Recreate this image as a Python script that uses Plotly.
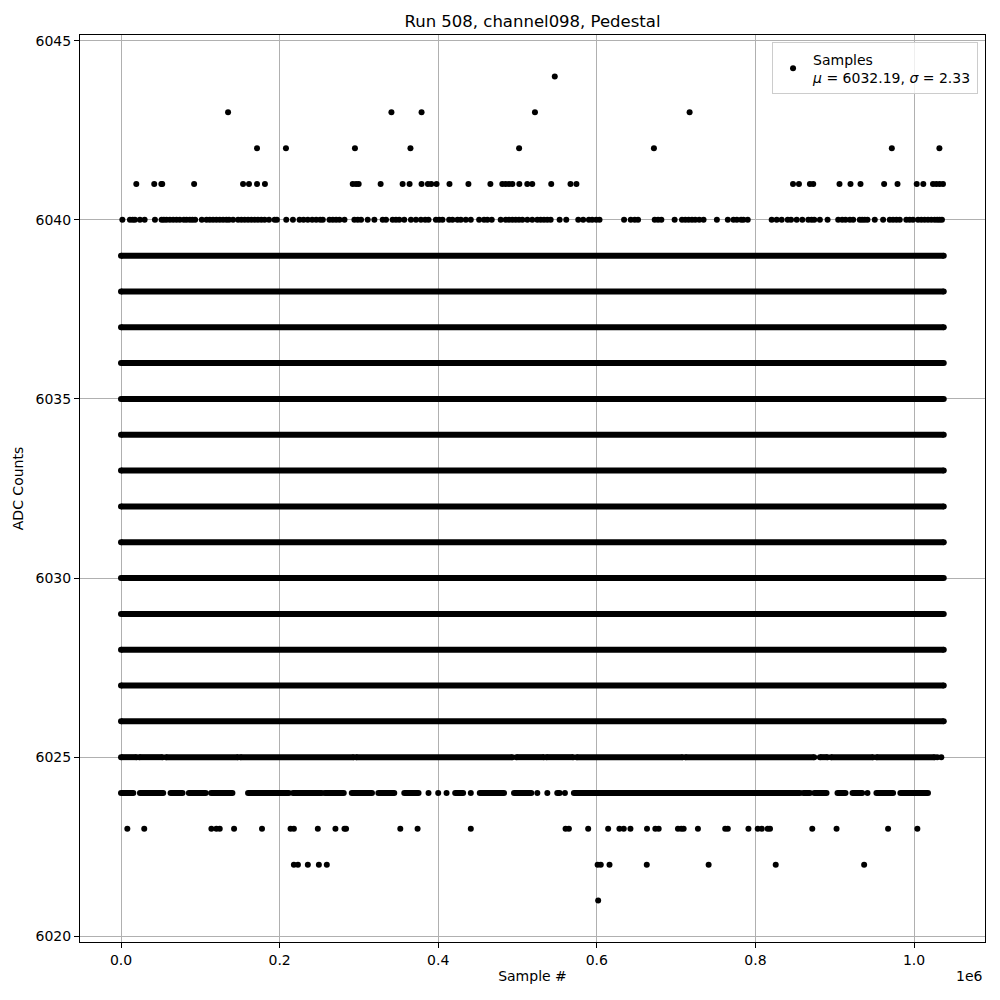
import plotly.graph_objects as go

# sample index values below are in thousands of samples (axis shows them in units of 1e6)
title = "Run 508, channel098, Pedestal"
mean_adc = 6032.19
sigma_adc = 2.33
last_sample_k = 1037.5

x_ticks = [0, 200000, 400000, 600000, 800000, 1000000]
x_tick_text = ["0.0", "0.2", "0.4", "0.6", "0.8", "1.0"]
y_ticks = [6020, 6025, 6030, 6035, 6040, 6045]

# ADC levels hit continuously over the whole run
full_levels = [6026, 6027, 6028, 6029, 6030, 6031, 6032,
               6033, 6034, 6035, 6036, 6037, 6038, 6039]

# partly filled levels: (first, last) sample ranges that are densely hit
runs_6025 = [(0, 19.7), (23, 52.4), (56.6, 147.6), (150.5, 293.5), (296.4, 493.5),
             (498.5, 533.4), (536.3, 570.3), (574.5, 708.2), (711.6, 874.2),
             (881.3, 891), (895.2, 948.4), (952.6, 1026)]
runs_6024 = [(0, 15.5), (23.9, 53.2), (62.5, 77.6), (85.5, 106.9), (113.6, 140.5),
             (160.2, 211.7), (216.8, 253.2), (257, 280.9), (291, 316.5), (324.5, 344.6),
             (357.2, 375.2), (421.4, 431.4), (452.4, 483), (495.6, 517.4), (550.1, 553.1),
             (571.1, 856.2), (860.4, 868.8), (874.2, 889.7), (903.5, 913.6), (922.4, 934.6),
             (952.6, 973.6), (982.8, 1017.6)]

# isolated samples
pts_6044 = [547]
pts_6043 = [135, 341, 379, 522, 717]
pts_6042 = [171.5, 208, 295, 365, 502, 672, 972, 1032]
pts_6041 = [19.3, 41.9, 50.9, 52, 92.2, 153.9, 161.4, 171.5, 181.5, 292.2, 296.4, 299.7,
            327.4, 355.1, 363.9, 379, 387, 391.2, 397.9, 414.2, 438.1, 465.8, 480.8, 485,
            489.3, 493.5, 502.3, 512.3, 518.6, 542.5, 566.8, 574.3, 847.4, 854.9, 868.7,
            872.9, 906, 919.9, 932.5, 962.3, 979.2, 1003.4, 1011.7, 1023.9, 1028.1, 1032.3,
            1036.5]
pts_6040 = [1.7, 11.3, 14.7, 17.6, 23.9, 29.8, 42.8, 51.2, 54.1, 57.4, 61.6, 65.8, 70, 74.2,
            79.2, 82.6, 86.8, 90.1, 93.5, 101.9, 107.8, 112, 116.1, 120.3, 124.5, 128.7,
            132.9, 136.3, 141.3, 147.6, 151.8, 156, 160.2, 164.4, 168.6, 172.7, 176.9, 181.1,
            186.6, 193.7, 196.6, 208.4, 216.8, 225.2, 230.2, 235.6, 241.1, 246.1, 251.2,
            254.5, 262.9, 267.1, 271.3, 275.5, 281.8, 294.3, 298.5, 302.7, 311.1, 319.5, 330,
            334.2, 342.5, 346.7, 350.9, 357.2, 365.6, 371.9, 378.2, 383.6, 387.8, 397.1,
            401.2, 405.4, 413.8, 418, 424.3, 428.5, 434.8, 441.1, 451.6, 457.8, 462, 467.5,
            478.8, 485.1, 489.3, 493.5, 497.7, 501.9, 506.1, 512.4, 518.6, 525, 529.2, 533.4,
            537.6, 541.8, 553.1, 561.5, 576.6, 582.8, 590, 594.2, 599.2, 603.4, 634.4, 642.8,
            647.8, 652, 673, 677.2, 681.4, 698.1, 707.4, 711.6, 715.8, 720, 724.1, 729.2,
            734.6, 751.4, 765.2, 772.4, 776.6, 782, 784.9, 790.3, 820.5, 826.8, 833.1, 840.7,
            844.9, 852, 859.1, 866.7, 870.8, 874.2, 881.3, 891, 904.4, 909.4, 913.6, 919.1,
            923.3, 931.6, 934.6, 937.9, 941.3, 950.5, 961, 969.4, 973.6, 977.8, 982, 990.3,
            994.5, 998.7, 1005, 1009.2, 1013.4, 1017.6, 1021.8, 1026, 1029.3, 1032.3, 1035.2]
pts_6025 = [1029.3, 1034.4]
pts_6024 = [387.8, 400, 410.5, 441.1, 525, 537.6, 559.8, 941.3]
pts_6023 = [8, 29.3, 114, 120.3, 124.5, 142.6, 177.8, 213.8, 218, 248.2, 270.4, 281.8, 283.8,
            352.2, 374, 441.1, 560.6, 564.8, 589.1, 614.3, 628.5, 634, 642.4, 663.3, 673.8,
            678, 702.3, 706.5, 709.5, 727.5, 761.9, 765.2, 791.2, 802.9, 808, 815.5, 818.4,
            871.7, 902.3, 967.3, 1004.2]
pts_6022 = [218, 223.1, 235.6, 249.5, 259.5, 601, 605, 616, 663, 741, 825.6, 937.1]
pts_6021 = [601.7]

run_sets = {lvl: [(0, last_sample_k)] for lvl in full_levels}
run_sets[6025] = runs_6025
run_sets[6024] = runs_6024
point_sets = {6044: pts_6044, 6043: pts_6043, 6042: pts_6042, 6041: pts_6041,
              6040: pts_6040, 6025: pts_6025, 6024: pts_6024, 6023: pts_6023,
              6022: pts_6022, 6021: pts_6021}

line_x, line_y = [], []
dot_x, dot_y = [], []
for lvl, runs in run_sets.items():
    for a, b in runs:
        line_x += [a * 1e3, b * 1e3, None]
        line_y += [lvl, lvl, None]
        dot_x += [a * 1e3, b * 1e3]
        dot_y += [lvl, lvl]
for lvl, pts in point_sets.items():
    dot_x += [p * 1e3 for p in pts]
    dot_y += [lvl] * len(pts)

dot_size = 6

fig = go.Figure()
fig.add_trace(go.Scatter(
    x=line_x, y=line_y, mode="lines",
    line=dict(color="black", width=dot_size),
    showlegend=False, hoverinfo="skip"
))
fig.add_trace(go.Scatter(
    x=dot_x, y=dot_y, mode="markers",
    marker=dict(color="black", size=dot_size, line=dict(width=0)),
    name=f"Samples<br><i>μ</i> = {mean_adc:.2f}, <i>σ</i> = {sigma_adc:.2f}"
))

axis_style = dict(
    showline=True, linecolor="black", linewidth=1.1, mirror=True,
    ticks="outside", ticklen=5, tickwidth=1.1, tickcolor="black",
    showgrid=True, gridcolor="#b0b0b0", gridwidth=1,
    zeroline=False, automargin=False,
    tickfont=dict(size=14, color="black"),
)

# the page body adds an 8px margin, so the figure is 992px and margins are shifted by 8px
fig.update_layout(
    width=992, height=992,
    paper_bgcolor="white", plot_bgcolor="white",
    font=dict(family="DejaVu Sans", color="black", size=14),
    margin=dict(l=72, r=15, t=27, b=58),
    title=dict(text=title, x=0.5, xref="paper", y=0.987, yref="container",
               yanchor="middle", font=dict(size=16.5)),
    xaxis=dict(range=[-51.7e3, 1089.5e3], tickvals=x_ticks, ticktext=x_tick_text,
               title=dict(text="Sample #", standoff=4, font=dict(size=14)), **axis_style),
    yaxis=dict(range=[6019.84, 6045.16], tickvals=y_ticks,
               title=dict(text="ADC Counts", standoff=8, font=dict(size=14)), **axis_style),
    legend=dict(x=0.9923, y=0.9918, xanchor="right", yanchor="top",
                bgcolor="rgba(255,255,255,0.8)", bordercolor="#cccccc", borderwidth=1,
                font=dict(size=14)),
    annotations=[dict(text="1e6", xref="paper", yref="paper", x=1, y=-0.037,
                      xanchor="right", yanchor="middle", showarrow=False,
                      font=dict(size=14))],
)

fig.write_html("out.html")
